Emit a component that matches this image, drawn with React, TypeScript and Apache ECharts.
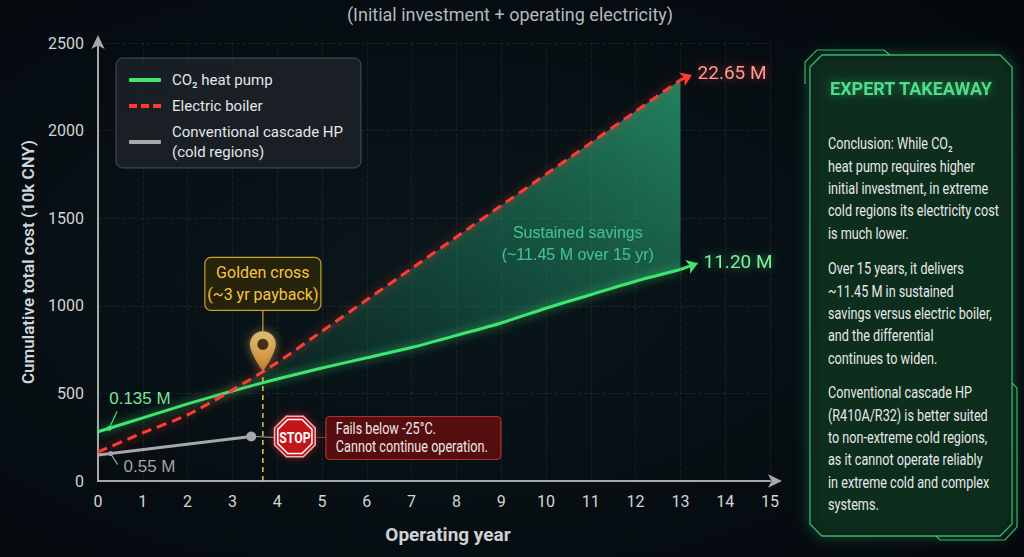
import React, { useEffect, useRef } from "react";
import * as echarts from "echarts";

// operating years and cumulative cost (10k CNY)
const years = [0, 1, 2, 3, 4, 5, 6, 7, 8, 9, 10, 11, 12, 13];
const co2HeatPump = [281, 360, 440, 514, 582, 645, 703, 762, 831, 902, 986, 1063, 1140, 1207];
const electricBoiler = [165, 275, 378, 519, 676, 855, 1034, 1213, 1393, 1572, 1751, 1930, 2110, 2289];
const cascadeYears = [0, 3.42];
const cascadeHP = [148, 254];

// arrow tips past the last year, and the labels next to them
const co2Tip = [13.39, 1243];
const boilerTip = [13.26, 2317];
const co2EndLabel = "11.20 M";
const boilerEndLabel = "22.65 M";
const co2StartLabel = "0.135 M";
const cascadeStartLabel = "0.55 M";

const crossYear = 3.68;
const savingsAnchor = [10.71, 1353];
const savingsLines = ["Sustained savings", "(~11.45 M over 15 yr)"];

const seriesNames = ["CO₂ heat pump", "Electric boiler", "Conventional cascade HP\n(cold regions)"];

const takeawayTitle = "EXPERT TAKEAWAY";
const takeaway = [
  ["Conclusion: While CO₂", "heat pump requires higher", "initial investment, in extreme", "cold regions its electricity cost", "is much lower."],
  ["Over 15 years, it delivers", "~11.45 M in sustained", "savings versus electric boiler,", "and the differential", "continues to widen."],
  ["Conventional cascade HP", "(R410A/R32) is better suited", "to non-extreme cold regions,", "as it cannot operate reliably", "in extreme cold and complex", "systems."],
];

const GREEN = "#3ee66f";
const RED = "#ff3b30";
const GRAY = "#a6a8aa";
const FONT = "Roboto, sans-serif";
const NARROW_SCALE = 0.79;

const interp = (xs: number[], ys: number[], x: number) => {
  for (let i = 0; i < xs.length - 1; i++) {
    if (x >= xs[i] && x <= xs[i + 1]) {
      const t = (x - xs[i]) / (xs[i + 1] - xs[i]);
      return ys[i] + t * (ys[i + 1] - ys[i]);
    }
  }
  return ys[ys.length - 1];
};

const octagon = (cx: number, cy: number, r: number) =>
  Array.from({ length: 8 }, (_, i) => {
    const a = Math.PI / 8 + (i * Math.PI) / 4;
    return [cx + r * Math.cos(a), cy + r * Math.sin(a)];
  });

const PIN = "path://M13,0C5.8,0,0,5.8,0,13C0,22,13,40,13,40C13,40,26,22,26,13C26,5.8,20.2,0,13,0Z";
const DASH_ICON = "path://M0,0h8v4h-8zM12,0h8v4h-8zM24,0h8v4h-8z";

export default function App() {
  const chartRef = useRef<HTMLDivElement>(null);

  useEffect(() => {
    if (!chartRef.current) return;
    document.body.style.margin = "0";
    const chart = echarts.init(chartRef.current, null, { renderer: "svg" });

    const bandStart = 3;
    const bandYears = years.slice(bandStart);
    const bandLow = co2HeatPump.slice(bandStart);
    const bandHigh = electricBoiler.slice(bandStart);
    const crossValue = interp(years, electricBoiler, crossYear);
    const last = years.length - 1;

    chart.setOption({
      animation: false,
      backgroundColor: new echarts.graphic.RadialGradient(0.42, 0.5, 0.75, [
        { offset: 0, color: "#0a171b" },
        { offset: 1, color: "#04080d" },
      ]),
      textStyle: { fontFamily: FONT },
      title: {
        text: "(Initial investment + operating electricity)",
        left: 505,
        textAlign: "center",
        top: 0,
        textStyle: { color: "#b5b9bd", fontSize: 18, fontWeight: "normal" },
      },
      legend: {
        data: [
          { name: seriesNames[0], icon: "roundRect" },
          { name: seriesNames[1], icon: DASH_ICON },
          { name: seriesNames[2], icon: "roundRect" },
        ],
        left: 116,
        top: 58,
        orient: "vertical",
        itemWidth: 32,
        itemHeight: 4,
        itemGap: 6,
        padding: [12, 18, 6, 13],
        backgroundColor: "rgba(28,34,40,0.85)",
        borderColor: "rgba(140,150,160,0.45)",
        borderWidth: 1,
        borderRadius: 7,
        textStyle: { color: "#e4e6e8", fontSize: 15, padding: [0, 0, 0, 6], lineHeight: 20 },
      },
      grid: { left: 98, right: 254, top: 43, bottom: 76 },
      xAxis: {
        type: "value",
        min: 0,
        max: 15,
        interval: 1,
        name: "Operating year",
        nameLocation: "middle",
        nameGap: 44,
        nameTextStyle: { color: "#cfd1d3", fontSize: 19, fontWeight: "bold", padding: [0, 0, 0, 28] },
        axisLine: {
          lineStyle: { color: GRAY, width: 2 },
          symbol: ["none", "arrow"],
          symbolSize: [10, 14],
          symbolOffset: [0, 12],
        },
        axisTick: { show: false },
        axisLabel: { color: "#d2d4d6", fontSize: 16, margin: 12 },
        splitLine: { show: true, lineStyle: { color: "rgba(255,255,255,0.07)", type: "dashed" } },
      },
      yAxis: {
        type: "value",
        min: 0,
        max: 2500,
        interval: 500,
        name: "Cumulative total cost (10k CNY)",
        nameLocation: "middle",
        nameGap: 62,
        nameTextStyle: { color: "#d4d6d8", fontSize: 17, fontWeight: 600 },
        axisLine: {
          show: true,
          lineStyle: { color: GRAY, width: 2 },
          symbol: ["none", "arrow"],
          symbolSize: [10, 14],
          symbolOffset: [0, 8],
        },
        axisTick: { show: false },
        axisLabel: { color: "#d2d4d6", fontSize: 16, margin: 14, formatter: (v: number) => String(v) },
        splitLine: { show: true, lineStyle: { color: "rgba(255,255,255,0.07)", type: "dashed" } },
      },
      series: [
        {
          name: "savings-band",
          type: "custom",
          silent: true,
          z: 1,
          data: [[bandYears[0], bandLow[0]]],
          renderItem: (_params: any, api: any) => {
            const top = bandYears.map((x, i) => api.coord([x, bandHigh[i]]));
            const bottom = bandYears.map((x, i) => api.coord([x, bandLow[i]])).reverse();
            return {
              type: "polygon",
              shape: { points: [...top, ...bottom] },
              style: {
                fill: new echarts.graphic.LinearGradient(0, 1, 1, 0, [
                  { offset: 0, color: "rgba(25,120,90,0.12)" },
                  { offset: 1, color: "rgba(45,175,125,0.72)" },
                ]),
              },
            };
          },
        },
        {
          name: seriesNames[0],
          type: "line",
          smooth: 0.25,
          symbol: "none",
          color: GREEN,
          lineStyle: { color: GREEN, width: 3, shadowBlur: 10, shadowColor: "rgba(62,230,111,0.7)" },
          data: years.map((x, i) => [x, co2HeatPump[i]]),
          z: 5,
          markLine: {
            silent: true,
            symbol: ["none", "arrow"],
            symbolSize: 11,
            lineStyle: { color: GREEN, width: 3, type: "dashed" },
            label: {
              show: true,
              position: "end",
              formatter: co2EndLabel,
              color: "#7ef0a0",
              fontSize: 19,
              distance: 6,
              textShadowBlur: 8,
              textShadowColor: "rgba(62,230,111,0.6)",
            },
            data: [[{ coord: [years[last], co2HeatPump[last]] }, { coord: co2Tip }]],
          },
        },
        {
          name: seriesNames[1],
          type: "line",
          smooth: 0.25,
          symbol: "none",
          color: RED,
          lineStyle: { color: RED, width: 3, type: [10, 6], shadowBlur: 10, shadowColor: "rgba(255,59,48,0.7)" },
          data: years.map((x, i) => [x, electricBoiler[i]]),
          z: 5,
          markLine: {
            silent: true,
            symbol: ["none", "arrow"],
            symbolSize: 11,
            lineStyle: { color: RED, width: 3, type: [10, 6] },
            label: {
              show: true,
              position: "end",
              formatter: boilerEndLabel,
              color: "#ff9a8c",
              fontSize: 19,
              distance: 6,
              textShadowBlur: 8,
              textShadowColor: "rgba(255,59,48,0.6)",
            },
            data: [[{ coord: [years[last], electricBoiler[last]] }, { coord: boilerTip }]],
          },
        },
        {
          name: seriesNames[2],
          type: "line",
          symbol: "none",
          showSymbol: true,
          color: GRAY,
          lineStyle: { color: GRAY, width: 3 },
          itemStyle: { color: GRAY },
          data: cascadeYears.map((x, i) =>
            i === cascadeYears.length - 1
              ? { value: [x, cascadeHP[i]], symbol: "circle", symbolSize: 10 }
              : [x, cascadeHP[i]]
          ),
          z: 5,
        },
        {
          name: "cross-line",
          type: "line",
          symbol: "none",
          silent: true,
          lineStyle: { color: "#f2c12e", width: 1.5, type: [5, 4] },
          data: [
            [crossYear, 0],
            [crossYear, crossValue],
          ],
          z: 4,
        },
        {
          name: "cross-pin",
          type: "scatter",
          silent: true,
          symbol: PIN,
          symbolSize: [26, 40],
          symbolOffset: [0, -20],
          itemStyle: {
            color: new echarts.graphic.LinearGradient(0, 0, 0, 1, [
              { offset: 0, color: "#ffd689" },
              { offset: 1, color: "#e08e2c" },
            ]),
            shadowBlur: 10,
            shadowColor: "rgba(255,190,80,0.6)",
          },
          data: [[crossYear, crossValue]],
          z: 10,
        },
        {
          name: "cross-pin-hole",
          type: "scatter",
          silent: true,
          symbol: "circle",
          symbolSize: 11,
          symbolOffset: [0, -27],
          itemStyle: { color: "#1b1306" },
          data: [[crossYear, crossValue]],
          z: 11,
        },
      ],
    });

    const px = (x: number, y: number) => chart.convertToPixel({ gridIndex: 0 }, [x, y]) as number[];
    const pin = px(crossYear, crossValue);
    const co2Dot = px(0.25, interp(years, co2HeatPump, 0.25));
    const grayStart = px(0.28, interp(cascadeYears, cascadeHP, 0.28));
    const grayEnd = px(cascadeYears[1], cascadeHP[1]);
    const savings = px(savingsAnchor[0], savingsAnchor[1]);
    const stopC = [pin[0] + 32, grayEnd[1]];
    const failX = stopC[0] + 31;

    const panelStroke = "rgba(60,210,120,0.85)";
    const paraTops = [133, 258, 382];

    chart.setOption({
      graphic: [
        // golden cross callout
        {
          type: "line",
          silent: true,
          shape: { x1: pin[0], y1: pin[1] - 61, x2: pin[0], y2: pin[1] - 40 },
          style: { stroke: "#c9a227", lineWidth: 1.2 },
        },
        {
          type: "rect",
          silent: true,
          shape: { x: pin[0] - 58, y: pin[1] - 114, width: 116, height: 53, r: 6 },
          style: { fill: "rgba(48,40,10,0.75)", stroke: "#c9a227", lineWidth: 1.2 },
        },
        {
          type: "text",
          silent: true,
          x: pin[0],
          y: pin[1] - 87.5,
          style: {
            text: "Golden cross\n(~3 yr payback)",
            fill: "#f5c542",
            fontSize: 16,
            fontFamily: FONT,
            lineHeight: 22,
            align: "center",
            verticalAlign: "middle",
          },
        },
        // stop sign and failure note
        {
          type: "line",
          silent: true,
          shape: { x1: grayEnd[0] + 4, y1: grayEnd[1], x2: stopC[0] - 21, y2: stopC[1] + 1 },
          style: { stroke: GRAY, lineWidth: 1 },
        },
        {
          type: "polygon",
          silent: true,
          shape: { points: octagon(stopC[0], stopC[1], 22) },
          style: { fill: "#c3161e", stroke: "#e9b4b4", lineWidth: 1.5, shadowBlur: 8, shadowColor: "rgba(255,40,40,0.5)" },
        },
        {
          type: "polygon",
          silent: true,
          shape: { points: octagon(stopC[0], stopC[1], 18.5) },
          style: { fill: "none", stroke: "#ffffff", lineWidth: 1.5 },
        },
        {
          type: "text",
          silent: true,
          x: stopC[0],
          y: stopC[1] + 1,
          scaleX: 0.82,
          style: { text: "STOP", fill: "#ffffff", fontSize: 15, fontWeight: "bold", fontFamily: FONT, align: "center", verticalAlign: "middle" },
        },
        {
          type: "line",
          silent: true,
          shape: { x1: stopC[0] + 22, y1: stopC[1] + 1, x2: failX, y2: stopC[1] + 1 },
          style: { stroke: "#b3302e", lineWidth: 1 },
        },
        {
          type: "rect",
          silent: true,
          shape: { x: failX, y: stopC[1] - 20, width: 175, height: 43, r: 4 },
          style: { fill: "rgba(105,14,14,0.8)", stroke: "#b3302e", lineWidth: 1.2 },
        },
        {
          type: "text",
          silent: true,
          x: failX + 10,
          y: stopC[1] + 1.5,
          scaleX: NARROW_SCALE,
          style: {
            text: "Fails below -25°C.\nCannot continue operation.",
            fill: "#f2e6e6",
            fontSize: 16,
            fontFamily: FONT,
            lineHeight: 18,
            verticalAlign: "middle",
          },
        },
        // start value labels
        {
          type: "circle",
          silent: true,
          shape: { cx: co2Dot[0], cy: co2Dot[1], r: 2.5 },
          style: { fill: GREEN },
        },
        {
          type: "line",
          silent: true,
          shape: { x1: co2Dot[0], y1: co2Dot[1], x2: co2Dot[0] + 8, y2: co2Dot[1] - 17 },
          style: { stroke: GREEN, lineWidth: 1.2 },
        },
        {
          type: "text",
          silent: true,
          x: co2Dot[0],
          y: co2Dot[1] - 30,
          style: { text: co2StartLabel, fill: "#74e897", fontSize: 17, fontWeight: 500, verticalAlign: "middle" },
        },
        {
          type: "circle",
          silent: true,
          shape: { cx: grayStart[0], cy: grayStart[1], r: 2.5 },
          style: { fill: GRAY },
        },
        {
          type: "line",
          silent: true,
          shape: { x1: grayStart[0], y1: grayStart[1], x2: grayStart[0] + 7, y2: grayStart[1] + 11 },
          style: { stroke: GRAY, lineWidth: 1.2 },
        },
        {
          type: "text",
          silent: true,
          x: grayStart[0] + 13,
          y: grayStart[1] + 13,
          style: { text: cascadeStartLabel, fill: "#a2a4a6", fontSize: 17, fontWeight: 500, verticalAlign: "middle" },
        },
        // savings note
        {
          type: "text",
          silent: true,
          x: savings[0],
          y: savings[1],
          style: {
            text: savingsLines.join("\n"),
            fill: "#5fe3b2",
            fontSize: 16,
            lineHeight: 22,
            align: "center",
            verticalAlign: "middle",
            textShadowBlur: 6,
            textShadowColor: "rgba(0,0,0,0.5)",
          },
        },
        // expert takeaway panel
        {
          type: "polygon",
          silent: true,
          shape: {
            points: [
              [810, 67], [822, 55], [1000, 55], [1012, 67],
              [1012, 524], [1000, 536], [822, 536], [810, 524],
            ],
          },
          style: {
            fill: "rgba(9,24,22,0.92)",
            stroke: panelStroke,
            lineWidth: 1.3,
            shadowBlur: 14,
            shadowColor: "rgba(50,220,120,0.35)",
          },
        },
        {
          type: "polyline",
          silent: true,
          shape: { points: [[805, 84], [805, 62], [817, 50], [884, 50], [890, 55]] },
          style: { stroke: panelStroke, lineWidth: 1.2, fill: "none" },
        },
        {
          type: "polyline",
          silent: true,
          shape: { points: [[1012, 383], [1017, 388], [1017, 527], [1005, 540], [940, 540], [936, 536]] },
          style: { stroke: panelStroke, lineWidth: 1.2, fill: "none" },
        },
        {
          type: "text",
          silent: true,
          x: 911,
          y: 88,
          style: {
            text: takeawayTitle,
            fill: "#4fdc8c",
            fontSize: 18,
            fontWeight: "bold",
            fontFamily: FONT,
            align: "center",
            verticalAlign: "middle",
            textShadowBlur: 8,
            textShadowColor: "rgba(60,220,130,0.5)",
          },
        },
        {
          type: "line",
          silent: true,
          shape: { x1: 832, y1: 112, x2: 990, y2: 112 },
          style: {
            stroke: new echarts.graphic.LinearGradient(0, 0, 1, 0, [
              { offset: 0, color: "rgba(50,190,110,0.5)" },
              { offset: 0.5, color: "rgba(120,255,170,1)" },
              { offset: 1, color: "rgba(50,190,110,0.5)" },
            ]),
            lineWidth: 1.5,
          },
        },
        ...takeaway.map((lines, k) => ({
          type: "text",
          silent: true,
          x: 828,
          y: paraTops[k],
          scaleX: NARROW_SCALE,
          style: {
            text: lines.join("\n"),
            fill: "#e6e8ea",
            fontSize: 16,
            fontFamily: FONT,
            lineHeight: 22.4,
            verticalAlign: "top",
          },
        })),
      ],
    });

    return () => {
      chart.dispose();
    };
  }, []);

  return <div ref={chartRef} style={{ width: "1024px", height: "557px" }} />;
}
